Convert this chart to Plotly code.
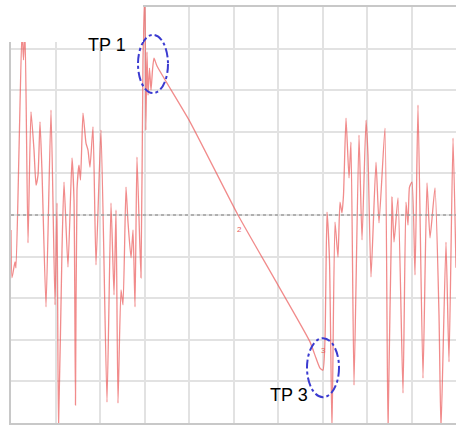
import plotly.graph_objects as go

# Signal trace (x: 0..100, y: -5..5)
x_vals = [0.0, 0.22, 0.9, 1.12, 1.8, 2.47, 2.81, 3.15, 3.82, 4.49, 5.17, 5.62, 6.07, 6.52, 6.97,
          7.87, 8.99, 9.89, 10.34, 10.67, 11.46, 11.91, 12.81, 13.71, 14.16, 14.49, 14.83, 15.28,
          15.62, 16.18, 16.85, 17.3, 17.75, 18.43, 19.1, 20.22, 21.57, 22.47, 23.15, 23.6, 24.04,
          24.72, 25.17, 25.84, 26.29, 26.97, 27.42, 27.87, 28.31, 29.21, 29.66, 30.11, 30.3,
          30.56, 30.79, 31.12, 31.46, 31.8, 32.13, 32.81, 40.22, 51.01, 59.33, 67.19, 68.54,
          69.44, 70.11, 70.56, 71.01, 71.57, 72.13, 72.81, 73.48, 73.93, 74.38, 74.72, 75.28,
          75.96, 76.4, 77.08, 78.2, 78.88, 79.78, 80.22, 80.9, 82.02, 82.7, 84.04, 84.72, 85.62,
          86.07, 86.97, 88.09, 88.76, 89.21, 89.55, 90.11, 90.79, 91.46, 92.58, 93.48, 94.16,
          95.28, 96.18, 96.63, 97.75, 98.43, 99.33, 100.0]
y_vals = [-0.36, -1.51, -1.13, -1.27, 1.56, 4.45, 3.73, 4.45, -0.67, 2.48, 1.56, 0.72, 0.96, 2.24,
          1.03, -2.21, 2.52, -2.16, 0.29, -5.17, -0.84, 0.79, -1.25, 1.37, 0.36, -4.57, 0.6, 1.2,
          0.84, 2.45, 1.73, 1.56, 1.15, 2.12, -1.2, 2.04, -4.5, 0.29, -1.92, 0.12, -4.52,
          -1.8, -2.16, 0.67, -0.17, -1.03, -0.36, -2.21, 1.39, -1.51, 3.73, 5.4, 2.04,
          3.92, 2.88, 3.53, 3.0, 3.49, 3.77, 3.58, 2.24, 0.0, -1.56, -3.05, -3.44,
          -3.68, -3.73, -3.0, 0.07, -1.08, -5.17, -0.17, -1.01, 0.31, 0.05, 0.48, 2.33,
          0.89, 1.75, -4.09, 1.92, -0.6, 2.28, 1.44, -1.49, 1.27, -0.19, 2.09, -5.17, 0.43,
          -0.65, 0.41, -4.28, 0.31, -0.24, 0.67, 0.79, -1.44, 2.64, -3.92, 0.77, -0.55,
          0.65, -2.4, -5.17, -0.65, -3.53, 1.85, -1.27]

# Turning point markers (ellipse extents) and labels
tp_labels = ["TP 1", "TP 3"]
tp_label_x = [21.57, 62.47]
tp_label_y = [4.09, -4.33]
tp_ellipse_x0 = [28.54, 66.52]
tp_ellipse_x1 = [35.28, 73.71]
tp_ellipse_y0 = [2.93, -4.38]
tp_ellipse_y1 = [4.33, -2.96]

small_labels = ["2", "3"]
small_x = [51.3, 70.2]
small_y = [-0.36, -3.25]

fig = go.Figure()
fig.add_trace(go.Scatter(
    x=x_vals, y=y_vals, mode="lines",
    line=dict(color="rgba(235,90,90,0.7)", width=1.3, shape="spline", smoothing=0.5),
    hoverinfo="skip", showlegend=False,
))

shapes = []
# dotted centre line
shapes.append(dict(type="line", xref="paper", yref="y", x0=0, x1=1, y0=0, y1=0,
                   line=dict(color="#a0a0a0", width=1.5, dash="dot"), layer="above"))
for i in range(len(tp_labels)):
    shapes.append(dict(type="circle", xref="x", yref="y",
                       x0=tp_ellipse_x0[i], x1=tp_ellipse_x1[i],
                       y0=tp_ellipse_y0[i], y1=tp_ellipse_y1[i],
                       line=dict(color="#3b3bd0", width=2, dash="dashdot"), layer="above"))
# blank top-left corner of the screenshot
shapes.append(dict(type="rect", xref="paper", yref="paper", x0=-0.05, x1=0.2966,
                   y0=0.916, y1=1.05, fillcolor="white", line=dict(width=0), layer="above"))

annotations = []
for i in range(len(tp_labels)):
    annotations.append(dict(x=tp_label_x[i], y=tp_label_y[i], xref="x", yref="y",
                            text=tp_labels[i], showarrow=False,
                            font=dict(family="Liberation Sans Narrow, Liberation Sans, Arial",
                                      size=18, color="black")))
for i in range(len(small_labels)):
    annotations.append(dict(x=small_x[i], y=small_y[i], xref="x", yref="y",
                            text=small_labels[i], showarrow=False,
                            font=dict(family="Liberation Sans", size=8, color="#e86060")))

fig.update_layout(
    width=456, height=425,
    margin=dict(l=11, r=0, t=7, b=2),
    paper_bgcolor="white", plot_bgcolor="white",
    shapes=shapes, annotations=annotations,
    xaxis=dict(range=[0, 100], dtick=10, showticklabels=False, ticks="",
               showgrid=True, gridcolor="#e2e2e2", gridwidth=1.5, zeroline=False,
               showline=True, linecolor="#c8c8c8", linewidth=1.5, mirror=True),
    yaxis=dict(range=[-5, 5], dtick=1, showticklabels=False, ticks="",
               showgrid=True, gridcolor="#e2e2e2", gridwidth=1.5, zeroline=False,
               showline=True, linecolor="#c8c8c8", linewidth=1.5, mirror=False),
)

fig.write_html("out.html")
